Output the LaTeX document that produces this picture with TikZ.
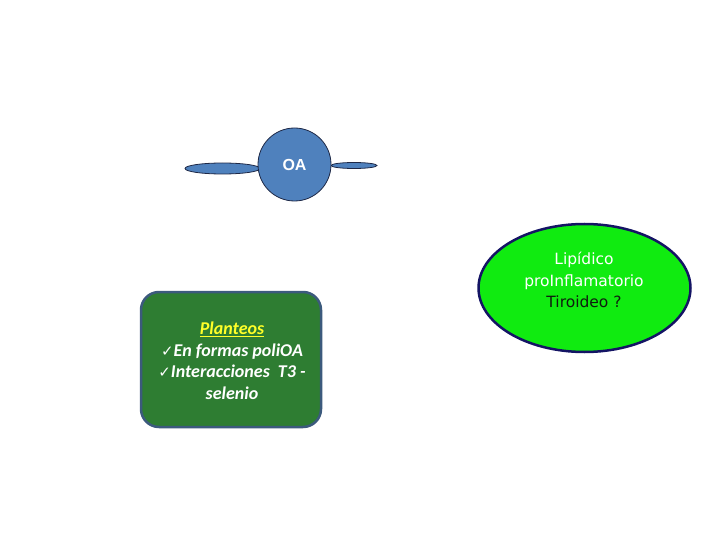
\documentclass[tikz,border=0pt]{standalone}
\usepackage{fontspec}
\usetikzlibrary{shapes.geometric}
\setmainfont{Carlito}
\newfontfamily\dejavu{DejaVu Sans}
\newfontfamily\libsans{Liberation Sans}
\definecolor{oablue}{RGB}{79,129,189}
\definecolor{oaborder}{RGB}{30,40,70}
\definecolor{lime}{RGB}{16,235,16}
\definecolor{navy}{RGB}{20,20,100}
\definecolor{boxgreen}{RGB}{46,125,50}
\definecolor{boxborder}{RGB}{60,90,125}
\definecolor{yel}{RGB}{255,255,40}
\definecolor{dark}{RGB}{15,30,15}
\tikzset{
  blueshape/.style={fill=oablue,draw=oaborder,line width=0.8pt},
  boxtext/.style={font=\fontsize{18}{21.5}\selectfont\bfseries\itshape,text=white,align=center},
}
\newcommand{\chk}{{\dejavu\fontsize{15}{15}\selectfont\upshape\mdseries ✓}}
\begin{document}
\begin{tikzpicture}[x=1pt,y=-1pt]
\useasboundingbox (0,0) rectangle (720,540);
% OA node with side ellipses
\draw[blueshape] (222.5,168.5) ellipse [x radius=37.5, y radius=5.5];
\draw[blueshape] (354,165.5) ellipse [x radius=23, y radius=3];
\node[blueshape,circle,minimum size=73pt,inner sep=0pt,text=white,font=\libsans\bfseries\fontsize{16}{18}\selectfont] (oa) at (294.5,164.5) {OA};
% green ellipse
\node[ellipse,draw=navy,line width=2.5pt,fill=lime,minimum width=212pt,minimum height=128pt,inner sep=0pt] (lip) at (584.5,288) {};
\node[font=\dejavu\fontsize{15.5}{21.5}\selectfont,align=center] (liptext) at (584,280) {\textcolor{white}{Lipídico}\\\textcolor{white}{proInflamatorio}\\\textcolor{dark}{Tiroideo ?}};
% box
\draw[fill=boxgreen,draw=boxborder,line width=2.5pt,rounded corners=18pt] (141,292) rectangle (321,427);
\node[boxtext] (planteos) at (232,360.5) {\textcolor{yel}{\underline{Planteos}}\\\chk En formas poliOA\\\chk Interacciones~ T3 -\\selenio};
\end{tikzpicture}
\end{document}
